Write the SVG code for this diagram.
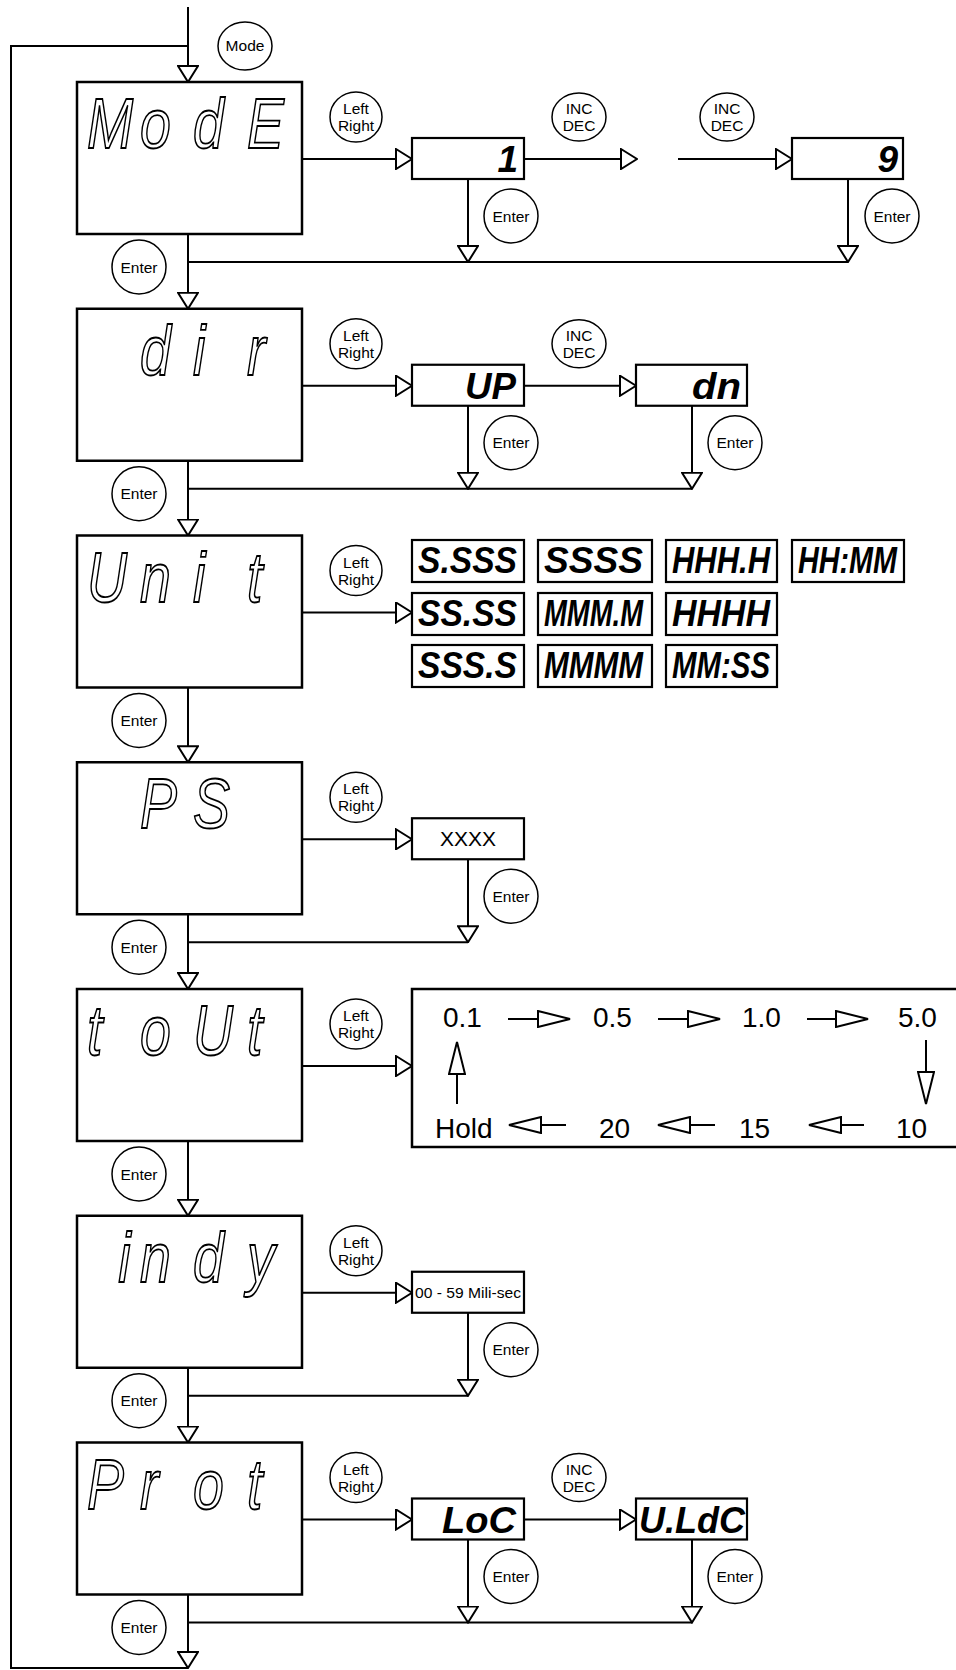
<svg xmlns="http://www.w3.org/2000/svg" width="956" height="1670" viewBox="0 0 956 1670">
<style>
.box{fill:#fff;stroke:#000;stroke-width:2.5}
.vbox{fill:#fff;stroke:#000;stroke-width:2.2}
.btn{fill:#fff;stroke:#000;stroke-width:1.5}
.btxt{font-family:"Liberation Sans",Arial,sans-serif;font-size:15.5px;text-anchor:middle;fill:#000}
.seg{font-family:"Liberation Sans",Arial,sans-serif;font-style:italic;font-size:71px;fill:#fff;stroke:#000;stroke-width:1.8}
.val{font-family:"Liberation Sans",Arial,sans-serif;font-style:italic;font-weight:bold;font-size:37px;text-anchor:end;fill:#000}
.unit{font-family:"Liberation Sans",Arial,sans-serif;font-style:italic;font-weight:bold;font-size:37px;fill:#000}
.num{font-family:"Liberation Sans",Arial,sans-serif;font-size:28px;fill:#000}
.plain{font-family:"Liberation Sans",Arial,sans-serif;fill:#000}
.con{fill:none;stroke:#000;stroke-width:2}
.arr{marker-end:url(#ah)}
.arr2{fill:none;stroke:#000;stroke-width:2;marker-end:url(#ah2)}
</style>
<defs>
<marker id="ah" viewBox="0 0 18 22" refX="17" refY="11" markerWidth="18" markerHeight="22" orient="auto" markerUnits="userSpaceOnUse">
<path d="M1,1 L17,11 L1,21 Z" fill="#fff" stroke="#000" stroke-width="2"/>
</marker>
<marker id="ah2" viewBox="0 0 34 18" refX="33" refY="9" markerWidth="34" markerHeight="18" orient="auto" markerUnits="userSpaceOnUse">
<path d="M1,1 L33,9 L1,17 Z" fill="#fff" stroke="#000" stroke-width="2"/>
</marker>
</defs>
<rect width="956" height="1670" fill="#fff"/>

<g id="connectors">
<path class="con" d="M188,1668 H11 V46 H188"/>
<path class="con" d="M188,262 H848"/>
<path class="con" d="M188,488.75 H692"/>
<path class="con" d="M188,942.25 H468"/>
<path class="con" d="M188,1395.75 H468"/>
<path class="con" d="M188,1622.5 H692"/>
<path class="con arr" d="M188,7 V82"/>
<path class="con arr" d="M188,234 V308.75"/>
<path class="con arr" d="M188,460.75 V535.5"/>
<path class="con arr" d="M188,687.5 V762.25"/>
<path class="con arr" d="M188,914.25 V989"/>
<path class="con arr" d="M188,1141 V1215.75"/>
<path class="con arr" d="M188,1367.75 V1442.5"/>
<path class="con arr" d="M188,1594.5 V1668"/>
<path class="con arr" d="M302,159 H412"/>
<path class="con arr" d="M302,385.75 H412"/>
<path class="con arr" d="M302,612.5 H412"/>
<path class="con arr" d="M302,839.25 H412"/>
<path class="con arr" d="M302,1066 H412"/>
<path class="con arr" d="M302,1292.75 H412"/>
<path class="con arr" d="M302,1519.5 H412"/>
<path class="con arr" d="M524,159 H637"/>
<path class="con arr" d="M678,159 H792"/>
<path class="con arr" d="M468,179 V262"/>
<path class="con arr" d="M848,179 V262"/>
<path class="con arr" d="M524,385.75 H636"/>
<path class="con arr" d="M468,405.75 V488.75"/>
<path class="con arr" d="M692,405.75 V488.75"/>
<path class="con arr" d="M468,859.25 V942.25"/>
<path class="con arr" d="M468,1312.75 V1395.75"/>
<path class="con arr" d="M524,1519.5 H636"/>
<path class="con arr" d="M468,1539.5 V1622.5"/>
<path class="con arr" d="M692,1539.5 V1622.5"/>
</g>

<!-- main display nodes -->
<g id="node-mode" transform="translate(77,82)">
<rect class="box" x="0" y="0" width="225" height="152"/>
<text class="seg" transform="translate(10,66) scale(0.78,1)" x="0 68 136 205">ModE</text>
</g>
<g id="node-dir" transform="translate(77,308.75)">
<rect class="box" x="0" y="0" width="225" height="152"/>
<text class="seg" transform="translate(10,66) scale(0.78,1)" x="68 136 205">dir</text>
</g>
<g id="node-unit" transform="translate(77,535.5)">
<rect class="box" x="0" y="0" width="225" height="152"/>
<text class="seg" transform="translate(10,66) scale(0.78,1)" x="0 68 136 205">Unit</text>
</g>
<g id="node-ps" transform="translate(77,762.25)">
<rect class="box" x="0" y="0" width="225" height="152"/>
<text class="seg" transform="translate(10,66) scale(0.78,1)" x="68 136">PS</text>
</g>
<g id="node-tout" transform="translate(77,989)">
<rect class="box" x="0" y="0" width="225" height="152"/>
<text class="seg" transform="translate(10,66) scale(0.78,1)" x="0 68 136 205">toUt</text>
</g>
<g id="node-indy" transform="translate(77,1215.75)">
<rect class="box" x="0" y="0" width="225" height="152"/>
<text class="seg" transform="translate(10,66) scale(0.78,1)" x="40 68 136 205">indy</text>
</g>
<g id="node-prot" transform="translate(77,1442.5)">
<rect class="box" x="0" y="0" width="225" height="152"/>
<text class="seg" transform="translate(10,66) scale(0.78,1)" x="0 68 136 205">Prot</text>
</g>

<!-- value nodes -->
<g id="val-1"><rect class="vbox" x="412" y="138" width="112" height="41"/><text class="val" x="518" y="172">1</text></g>
<g id="val-9"><rect class="vbox" x="792" y="138" width="111" height="41"/><text class="val" x="898" y="172">9</text></g>
<g id="val-up"><rect class="vbox" x="412" y="364.75" width="112" height="41"/><text class="val" x="516" y="398.75" textLength="51" lengthAdjust="spacingAndGlyphs">UP</text></g>
<g id="val-dn"><rect class="vbox" x="636" y="364.75" width="111" height="41"/><text class="val" x="741" y="398.75" textLength="49" lengthAdjust="spacingAndGlyphs">dn</text></g>
<g id="val-xxxx"><rect class="vbox" x="412" y="818.25" width="112" height="41"/><text class="plain" x="468" y="846" font-size="21" text-anchor="middle">XXXX</text></g>
<g id="val-mili"><rect class="vbox" x="412" y="1271.75" width="112" height="41"/><text class="plain" x="415" y="1298" font-size="15" textLength="106" lengthAdjust="spacingAndGlyphs">00 - 59 Mili-sec</text></g>
<g id="val-loc"><rect class="vbox" x="412" y="1498.5" width="112" height="41"/><text class="val" x="516" y="1532.5" textLength="74" lengthAdjust="spacingAndGlyphs">LoC</text></g>
<g id="val-uldc"><rect class="vbox" x="636" y="1498.5" width="111" height="41"/><text class="val" x="745" y="1532.5" textLength="106" lengthAdjust="spacingAndGlyphs">U.LdC</text></g>

<!-- unit options -->
<g id="unit-options">
<rect class="vbox" x="412" y="540" width="112" height="42"/><text class="unit" x="418" y="573" textLength="99" lengthAdjust="spacingAndGlyphs">S.SSS</text>
<rect class="vbox" x="538" y="540" width="114" height="42"/><text class="unit" x="544" y="573" textLength="99" lengthAdjust="spacingAndGlyphs">SSSS</text>
<rect class="vbox" x="666" y="540" width="111" height="42"/><text class="unit" x="672" y="573" textLength="98" lengthAdjust="spacingAndGlyphs">HHH.H</text>
<rect class="vbox" x="792" y="540" width="112" height="42"/><text class="unit" x="798" y="573" textLength="99" lengthAdjust="spacingAndGlyphs">HH:MM</text>
<rect class="vbox" x="412" y="593" width="112" height="42"/><text class="unit" x="418" y="626" textLength="99" lengthAdjust="spacingAndGlyphs">SS.SS</text>
<rect class="vbox" x="538" y="593" width="114" height="42"/><text class="unit" x="544" y="626" textLength="99" lengthAdjust="spacingAndGlyphs">MMM.M</text>
<rect class="vbox" x="666" y="593" width="111" height="42"/><text class="unit" x="672" y="626" textLength="98" lengthAdjust="spacingAndGlyphs">HHHH</text>
<rect class="vbox" x="412" y="645" width="112" height="42"/><text class="unit" x="418" y="678" textLength="99" lengthAdjust="spacingAndGlyphs">SSS.S</text>
<rect class="vbox" x="538" y="645" width="114" height="42"/><text class="unit" x="544" y="678" textLength="99" lengthAdjust="spacingAndGlyphs">MMMM</text>
<rect class="vbox" x="666" y="645" width="111" height="42"/><text class="unit" x="672" y="678" textLength="98" lengthAdjust="spacingAndGlyphs">MM:SS</text>
</g>

<!-- timeout options -->
<g id="tout-options">
<rect class="box" x="412" y="989" width="546" height="158"/>
<text class="num" x="443" y="1027">0.1</text>
<text class="num" x="593" y="1027">0.5</text>
<text class="num" x="742" y="1027">1.0</text>
<text class="num" x="898" y="1027">5.0</text>
<text class="num" x="435" y="1138">Hold</text>
<text class="num" x="599" y="1138">20</text>
<text class="num" x="739" y="1138">15</text>
<text class="num" x="896" y="1138">10</text>
<path class="arr2" d="M508,1019 H570"/>
<path class="arr2" d="M658,1019 H720"/>
<path class="arr2" d="M807,1019 H868"/>
<path class="arr2" d="M566,1125 H509"/>
<path class="arr2" d="M715,1125 H658"/>
<path class="arr2" d="M864,1125 H809"/>
<path class="arr2" d="M457,1104 V1042"/>
<path class="arr2" d="M926,1040 V1104"/>
</g>

<!-- buttons -->
<g id="btn-mode"><ellipse class="btn" cx="245" cy="46" rx="27" ry="24"/><text class="btxt" x="245" y="51">Mode</text></g>

<g id="btn-lr-1"><ellipse class="btn" cx="356" cy="117" rx="26" ry="25"/><text class="btxt" x="356" y="114">Left</text><text class="btxt" x="356" y="131">Right</text></g>
<g id="btn-lr-2"><ellipse class="btn" cx="356" cy="343.75" rx="26" ry="25"/><text class="btxt" x="356" y="340.75">Left</text><text class="btxt" x="356" y="357.75">Right</text></g>
<g id="btn-lr-3"><ellipse class="btn" cx="356" cy="570.5" rx="26" ry="25"/><text class="btxt" x="356" y="567.5">Left</text><text class="btxt" x="356" y="584.5">Right</text></g>
<g id="btn-lr-4"><ellipse class="btn" cx="356" cy="797.25" rx="26" ry="25"/><text class="btxt" x="356" y="794.25">Left</text><text class="btxt" x="356" y="811.25">Right</text></g>
<g id="btn-lr-5"><ellipse class="btn" cx="356" cy="1024" rx="26" ry="25"/><text class="btxt" x="356" y="1021">Left</text><text class="btxt" x="356" y="1038">Right</text></g>
<g id="btn-lr-6"><ellipse class="btn" cx="356" cy="1250.75" rx="26" ry="25"/><text class="btxt" x="356" y="1247.75">Left</text><text class="btxt" x="356" y="1264.75">Right</text></g>
<g id="btn-lr-7"><ellipse class="btn" cx="356" cy="1477.5" rx="26" ry="25"/><text class="btxt" x="356" y="1474.5">Left</text><text class="btxt" x="356" y="1491.5">Right</text></g>

<g id="btn-incdec-1a"><ellipse class="btn" cx="579" cy="117" rx="27" ry="24"/><text class="btxt" x="579" y="114">INC</text><text class="btxt" x="579" y="131">DEC</text></g>
<g id="btn-incdec-1b"><ellipse class="btn" cx="727" cy="117" rx="27" ry="24"/><text class="btxt" x="727" y="114">INC</text><text class="btxt" x="727" y="131">DEC</text></g>
<g id="btn-incdec-2"><ellipse class="btn" cx="579" cy="343.75" rx="27" ry="24"/><text class="btxt" x="579" y="340.75">INC</text><text class="btxt" x="579" y="357.75">DEC</text></g>
<g id="btn-incdec-7"><ellipse class="btn" cx="579" cy="1477.5" rx="27" ry="24"/><text class="btxt" x="579" y="1474.5">INC</text><text class="btxt" x="579" y="1491.5">DEC</text></g>

<g id="btn-enter-1a"><circle class="btn" cx="511" cy="216" r="27"/><text class="btxt" x="511" y="221.5">Enter</text></g>
<g id="btn-enter-1b"><circle class="btn" cx="892" cy="216" r="27"/><text class="btxt" x="892" y="221.5">Enter</text></g>
<g id="btn-enter-2a"><circle class="btn" cx="511" cy="442.75" r="27"/><text class="btxt" x="511" y="448.25">Enter</text></g>
<g id="btn-enter-2b"><circle class="btn" cx="735" cy="442.75" r="27"/><text class="btxt" x="735" y="448.25">Enter</text></g>
<g id="btn-enter-4"><circle class="btn" cx="511" cy="896.25" r="27"/><text class="btxt" x="511" y="901.75">Enter</text></g>
<g id="btn-enter-6"><circle class="btn" cx="511" cy="1349.75" r="27"/><text class="btxt" x="511" y="1355.25">Enter</text></g>
<g id="btn-enter-7a"><circle class="btn" cx="511" cy="1576.5" r="27"/><text class="btxt" x="511" y="1582">Enter</text></g>
<g id="btn-enter-7b"><circle class="btn" cx="735" cy="1576.5" r="27"/><text class="btxt" x="735" y="1582">Enter</text></g>

<g id="btn-enter-m1"><circle class="btn" cx="139" cy="267" r="27"/><text class="btxt" x="139" y="272.5">Enter</text></g>
<g id="btn-enter-m2"><circle class="btn" cx="139" cy="493.75" r="27"/><text class="btxt" x="139" y="499.25">Enter</text></g>
<g id="btn-enter-m3"><circle class="btn" cx="139" cy="720.5" r="27"/><text class="btxt" x="139" y="726">Enter</text></g>
<g id="btn-enter-m4"><circle class="btn" cx="139" cy="947.25" r="27"/><text class="btxt" x="139" y="952.75">Enter</text></g>
<g id="btn-enter-m5"><circle class="btn" cx="139" cy="1174" r="27"/><text class="btxt" x="139" y="1179.5">Enter</text></g>
<g id="btn-enter-m6"><circle class="btn" cx="139" cy="1400.75" r="27"/><text class="btxt" x="139" y="1406.25">Enter</text></g>
<g id="btn-enter-m7"><circle class="btn" cx="139" cy="1627.5" r="27"/><text class="btxt" x="139" y="1633">Enter</text></g>
</svg>
